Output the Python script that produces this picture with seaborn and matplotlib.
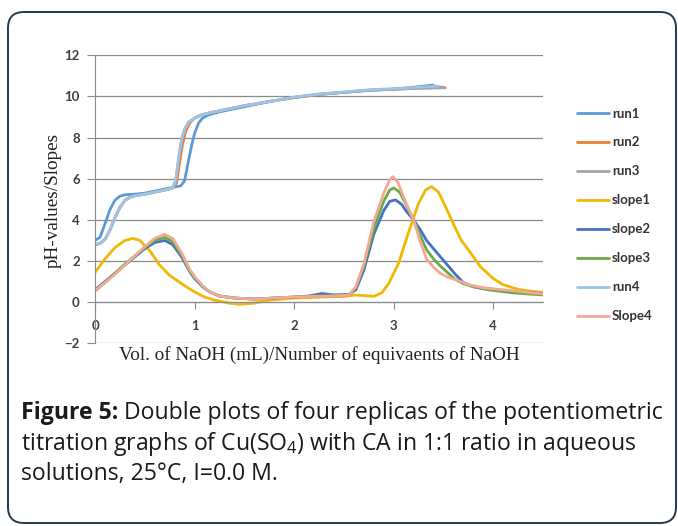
import numpy as np
import pandas as pd
import matplotlib
matplotlib.use("Agg")
import matplotlib.pyplot as plt
import seaborn as sns
from matplotlib.patches import FancyBboxPatch
from matplotlib.transforms import IdentityTransform

# ---- titration data: pH runs and their slopes ----
run1_x = [0.0, 0.05, 0.10, 0.15, 0.20, 0.25, 0.30, 0.40, 0.50, 0.60, 0.70, 0.80, 0.86, 0.90,
          0.94, 0.97, 1.00, 1.04, 1.08, 1.14, 1.25, 1.50, 1.75, 2.00, 2.25, 2.50, 2.75, 3.00, 3.20, 3.40]
run1_y = [3.0, 3.15, 3.8, 4.5, 4.95, 5.15, 5.22, 5.25, 5.3, 5.4, 5.5, 5.6, 5.65, 5.9,
          6.9, 7.6, 8.2, 8.7, 8.95, 9.1, 9.25, 9.5, 9.75, 9.95, 10.1, 10.2, 10.3, 10.35, 10.45, 10.55]

run2_x = [0.0, 0.05, 0.10, 0.15, 0.20, 0.25, 0.30, 0.35, 0.40, 0.50, 0.60, 0.70, 0.78, 0.82,
          0.85, 0.88, 0.91, 0.95, 1.00, 1.07, 1.15, 1.25, 1.50, 1.75, 2.00, 2.25, 2.50, 2.75, 3.00, 3.25, 3.50]
run2_y = [2.8, 2.85, 3.05, 3.5, 4.1, 4.6, 4.95, 5.1, 5.17, 5.25, 5.35, 5.45, 5.55, 5.8,
          6.8, 7.7, 8.3, 8.7, 8.95, 9.1, 9.2, 9.3, 9.55, 9.75, 9.95, 10.1, 10.2, 10.3, 10.35, 10.4, 10.45]

run3_x = [0.0, 0.05, 0.10, 0.15, 0.20, 0.25, 0.30, 0.35, 0.40, 0.50, 0.60, 0.70, 0.78, 0.81,
          0.84, 0.87, 0.90, 0.94, 1.00, 1.07, 1.15, 1.25, 1.50, 1.75, 2.00, 2.25, 2.50, 2.75, 3.00, 3.25, 3.52]
run3_y = [2.8, 2.85, 3.05, 3.5, 4.1, 4.6, 4.95, 5.1, 5.17, 5.25, 5.35, 5.45, 5.55, 5.9,
          7.0, 7.9, 8.4, 8.75, 8.95, 9.1, 9.2, 9.3, 9.55, 9.75, 9.95, 10.1, 10.2, 10.3, 10.35, 10.4, 10.42]

run4_x = [0.0, 0.05, 0.10, 0.15, 0.20, 0.25, 0.30, 0.35, 0.40, 0.50, 0.60, 0.70, 0.78, 0.81,
          0.84, 0.87, 0.90, 0.94, 1.00, 1.07, 1.15, 1.25, 1.50, 1.75, 2.00, 2.25, 2.50, 2.75, 3.00, 3.25, 3.45]
run4_y = [2.8, 2.85, 3.05, 3.5, 4.1, 4.6, 4.95, 5.1, 5.17, 5.25, 5.35, 5.45, 5.55, 5.9,
          7.0, 7.9, 8.4, 8.75, 8.95, 9.1, 9.2, 9.3, 9.55, 9.75, 9.97, 10.12, 10.22, 10.32, 10.38, 10.45, 10.5]

slope1_x = [0.0, 0.1, 0.2, 0.3, 0.38, 0.45, 0.55, 0.65, 0.75, 0.9, 1.0, 1.1, 1.2, 1.35, 1.45,
            1.6, 1.75, 2.0, 2.3, 2.5, 2.62, 2.7, 2.8, 2.88, 2.95, 3.05, 3.15, 3.25, 3.32, 3.38,
            3.45, 3.52, 3.6, 3.68, 3.75, 3.87, 4.0, 4.1, 4.25, 4.4, 4.5]
slope1_y = [1.45, 2.1, 2.65, 3.0, 3.1, 3.0, 2.5, 1.8, 1.3, 0.8, 0.5, 0.25, 0.1, -0.05, -0.1,
            -0.05, 0.1, 0.2, 0.25, 0.28, 0.35, 0.32, 0.28, 0.45, 0.9, 1.9, 3.4, 4.8, 5.45, 5.62,
            5.35, 4.65, 3.8, 3.0, 2.55, 1.73, 1.15, 0.85, 0.62, 0.52, 0.48]

slope2_x = [0.0, 0.1, 0.2, 0.3, 0.4, 0.5, 0.6, 0.7, 0.78, 0.87, 0.95, 1.0, 1.08, 1.15, 1.25,
            1.4, 1.6, 1.8, 2.0, 2.15, 2.28, 2.4, 2.55, 2.62, 2.7, 2.8, 2.9, 2.96, 3.02, 3.08,
            3.13, 3.2, 3.27, 3.33, 3.4, 3.47, 3.55, 3.62, 3.7, 3.8, 3.95, 4.2, 4.5]
slope2_y = [0.6, 1.0, 1.4, 1.8, 2.2, 2.6, 2.9, 3.0, 2.8, 2.2, 1.5, 1.15, 0.75, 0.5, 0.3,
            0.2, 0.15, 0.2, 0.25, 0.3, 0.42, 0.35, 0.38, 0.6, 1.55, 3.3, 4.45, 4.9, 4.97, 4.75,
            4.4, 4.0, 3.5, 3.0, 2.6, 2.2, 1.75, 1.35, 0.95, 0.75, 0.62, 0.52, 0.42]

slope3_x = [0.0, 0.1, 0.2, 0.3, 0.4, 0.5, 0.6, 0.7, 0.78, 0.87, 0.95, 1.0, 1.08, 1.15, 1.25,
            1.4, 1.6, 1.8, 2.0, 2.2, 2.4, 2.55, 2.62, 2.7, 2.8, 2.9, 2.96, 3.0, 3.06, 3.13,
            3.2, 3.27, 3.33, 3.4, 3.47, 3.55, 3.62, 3.7, 3.8, 3.95, 4.2, 4.5]
slope3_y = [0.55, 0.95, 1.4, 1.85, 2.25, 2.65, 3.0, 3.15, 2.95, 2.3, 1.55, 1.2, 0.78, 0.5, 0.3,
            0.2, 0.15, 0.2, 0.25, 0.3, 0.3, 0.35, 0.7, 1.75, 3.6, 4.9, 5.45, 5.55, 5.35, 4.7,
            4.0, 3.2, 2.55, 2.1, 1.75, 1.4, 1.1, 0.9, 0.75, 0.6, 0.45, 0.35]

slope4_x = [0.0, 0.1, 0.2, 0.3, 0.4, 0.5, 0.6, 0.7, 0.78, 0.87, 0.95, 1.0, 1.08, 1.15, 1.25,
            1.4, 1.6, 1.8, 2.0, 2.2, 2.4, 2.55, 2.62, 2.7, 2.8, 2.9, 2.96, 2.99, 3.04, 3.1,
            3.17, 3.2, 3.27, 3.33, 3.4, 3.47, 3.55, 3.65, 3.75, 3.9, 4.1, 4.3, 4.5]
slope4_y = [0.55, 0.95, 1.35, 1.8, 2.25, 2.7, 3.1, 3.3, 3.1, 2.4, 1.6, 1.25, 0.8, 0.5, 0.3,
            0.2, 0.15, 0.2, 0.25, 0.28, 0.3, 0.35, 0.75, 1.85, 3.9, 5.3, 5.95, 6.1, 5.85, 5.1,
            4.3, 4.0, 2.9, 2.1, 1.7, 1.4, 1.2, 1.05, 0.85, 0.7, 0.6, 0.5, 0.4]

series_names = ["run1", "run2", "run3", "slope1", "slope2", "slope3", "run4", "Slope4"]
series_x = [run1_x, run2_x, run3_x, slope1_x, slope2_x, slope3_x, run4_x, slope4_x]
series_y = [run1_y, run2_y, run3_y, slope1_y, slope2_y, slope3_y, run4_y, slope4_y]
series_colors = ["#5B9BD5", "#ED7D31", "#A5A5A5", "#F2B705", "#4472C4", "#6AAB45", "#9DC3E6", "#F4A896"]

y_ticks = [-2, 0, 2, 4, 6, 8, 10, 12]
x_ticks = [0, 1, 2, 3, 4]

W, H = 678, 526
sns.set_style("white")
plt.rcParams["font.family"] = ["Lato", "DejaVu Sans"]
plt.rcParams["mathtext.fontset"] = "custom"
plt.rcParams["mathtext.rm"] = "Open Sans"

fig = plt.figure(figsize=(W / 100, H / 100), dpi=100)
fig.patch.set_facecolor("white")
ax = fig.add_axes([95 / W, 1 - 343.3 / H, (543 - 95) / W, (343.3 - 55.3) / H])

frames = []
for name, xs, ys in zip(series_names, series_x, series_y):
    frames.append(pd.DataFrame({"x": xs, "y": ys, "series": name}))
df = pd.concat(frames, ignore_index=True)

for name, color in zip(series_names, series_colors):
    sub = df[df["series"] == name]
    sns.lineplot(data=sub, x="x", y="y", ax=ax, color=color, lw=2.0,
                 sort=False, estimator=None, label=name, legend=False)

ax.set_xlim(0, 4.5)
ax.set_ylim(-2, 12)
ax.set_yticks(y_ticks)
ax.set_xticks(x_ticks)
ax.grid(axis="y", color="#8a8a8a", lw=0.9)
ax.grid(axis="x", visible=False)
ax.set_axisbelow(True)
for s in ["top", "right"]:
    ax.spines[s].set_visible(False)
ax.spines["left"].set_color("#8a8a8a")
ax.spines["bottom"].set_color("#8a8a8a")
ax.spines["bottom"].set_position(("data", 0))
ax.tick_params(axis="y", direction="out", length=6, color="#8a8a8a", pad=5,
               labelsize=9.5, labelcolor="#404040", left=True)
ax.tick_params(axis="x", direction="out", length=5, color="#8a8a8a", pad=8,
               labelsize=9.5, labelcolor="#404040", bottom=True)
for lab in ax.get_xticklabels() + ax.get_yticklabels():
    lab.set_fontweight("bold")
ax.set_xlabel("")
ax.set_ylabel("")

fig.text(53 / W, 1 - 200 / H, "pH-values/Slopes", rotation=90, ha="center", va="center",
         family="Liberation Serif", fontsize=13.8, color="#222222")
fig.text(319 / W, 1 - 355 / H, "Vol. of NaOH (mL)/Number of equivaents of NaOH",
         ha="center", va="center", family="Liberation Serif", fontsize=13.8, color="#222222")

handles = ax.get_lines()
leg_handles = [h for h in handles if h.get_label() in series_names]
leg = fig.legend(leg_handles, [h.get_label() for h in leg_handles],
                 loc="upper left", bbox_to_anchor=(577 / W, 1 - 107.5 / H),
                 frameon=False, fontsize=9.5, handlelength=2.45, handletextpad=0.2,
                 labelspacing=1.285, borderpad=0, borderaxespad=0)
for t in leg.get_texts():
    t.set_fontweight("bold")
    t.set_color("#333333")

# rounded panel border
frame = FancyBboxPatch((8, 3), 668, 511, boxstyle="round,pad=0,rounding_size=16",
                       transform=IdentityTransform(), fill=False,
                       edgecolor="#26384d", lw=1.4)
fig.add_artist(frame)

# caption
cap_kw = dict(family=["Open Sans", "DejaVu Sans"], fontsize=16.6, color="#1a1a1a", va="baseline")
t_bold = fig.text(21 / W, 1 - 419 / H, "Figure 5:", weight="bold", **cap_kw)
fig.canvas.draw()
bb = t_bold.get_window_extent()
fig.text((bb.x1) / W, 1 - 419 / H, " Double plots of four replicas of the potentiometric", **cap_kw)
fig.text(21 / W, 1 - 450 / H, "titration graphs of Cu(SO$_4$) with CA in 1:1 ratio in aqueous", **cap_kw)
fig.text(21 / W, 1 - 480 / H, "solutions, 25°C, I=0.0 M.", **cap_kw)

fig.savefig("out.png", dpi=100)
